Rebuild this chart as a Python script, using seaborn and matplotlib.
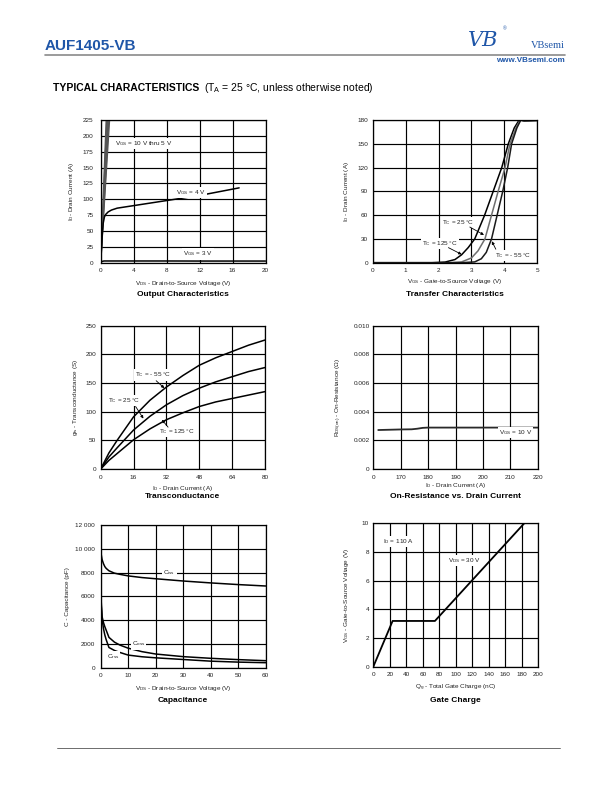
import matplotlib
matplotlib.use("Agg")
import matplotlib.pyplot as plt
import seaborn as sns
import pandas as pd
from matplotlib.lines import Line2D

# ---------------- data ----------------
# Output characteristics
out_vgs_hi_names = ["10 V", "9 V", "8 V", "7 V", "6 V", "5 V"]
out_vds_at_225 = [0.66, 0.74, 0.82, 0.90, 0.99, 1.08]
out_vds_4 = [0, 0.1, 0.2, 0.3, 0.45, 0.6, 0.9, 1.3, 2.0, 4.0, 8.0, 12.0, 16.8]
out_id_4 = [0, 22, 45, 62, 72, 76, 80, 83, 86, 90, 98, 106, 118]
out_vds_3 = [0, 0.15, 0.4, 4, 8, 12, 16, 20]
out_id_3 = [0, 2.0, 2.7, 2.7, 2.7, 2.6, 2.6, 2.6]

# Transfer characteristics
tr_v_125 = [0, 1.8, 2.2, 2.5, 2.7, 2.9, 3.1, 3.4, 3.66, 3.92, 4.12, 4.3, 4.45, 4.6, 5.0]
tr_i_125 = [0, 0, 0.8, 4, 10, 19, 30, 60, 90, 120, 150, 170, 180, 179, 179.5]
tr_v_25 = [0, 2.3, 2.7, 3.0, 3.2, 3.41, 3.61, 3.81, 4.02, 4.17, 4.35, 4.48, 4.6, 5.0]
tr_i_25 = [0, 0, 1, 6, 15, 30, 60, 90, 120, 150, 170, 180, 179, 179.5]
tr_v_m55 = [0, 2.7, 3.1, 3.3, 3.45, 3.61, 3.78, 3.95, 4.1, 4.22, 4.38, 4.5, 4.6, 5.0]
tr_i_m55 = [0, 0, 1, 5, 13, 30, 60, 90, 120, 150, 170, 180, 179, 179.5]

# Transconductance
gfs_id = [0, 4, 8, 16, 24, 32, 40, 48, 56, 64, 72, 80]
gfs_m55 = [0, 28, 50, 91, 120, 143, 163, 181, 194, 205, 216, 225]
gfs_25 = [0, 21, 37, 68, 92, 112, 128, 141, 152, 161, 170, 177]
gfs_125 = [0, 15, 27, 51, 70, 86, 98, 109, 117, 123, 129, 135]

# On-resistance vs drain current (x in tick-division units)
ron_tick_labels = ["0", "170", "180", "190", "200", "210", "220"]
ron_x = [0.18, 0.6, 1.0, 1.4, 1.6, 1.8, 2.0, 3.0, 4.0, 5.0, 6.0]
ron_r = [0.00272, 0.00274, 0.00276, 0.00277, 0.00281, 0.00287, 0.00289, 0.00289, 0.00289, 0.00289, 0.00289]

# Capacitance
cap_v = [0, 0.2, 0.5, 1, 1.5, 2, 3, 5, 7, 10, 15, 20, 30, 40, 50, 60]
cap_ciss = [10100, 9500, 9100, 8750, 8500, 8350, 8150, 7950, 7850, 7720, 7580, 7480, 7290, 7130, 6990, 6870]
cap_coss = [7100, 5500, 4300, 3800, 3450, 3150, 2550, 2150, 1900, 1640, 1350, 1150, 930, 790, 680, 590]
cap_crss = [7100, 5200, 4100, 3300, 2750, 2350, 1700, 1450, 1280, 1060, 920, 830, 690, 550, 470, 420]
cap_ytick_labels = ["0", "2000", "4000", "6000", "8000", "10 000", "12 000"]

# Gate charge
gc_qg = [0, 23.4, 74.7, 183]
gc_vgs = [0, 3.19, 3.19, 10]

# ---------------- style ----------------
sns.set_theme(style="white")
plt.rcParams["font.family"] = ["Liberation Sans", "DejaVu Sans"]
plt.rcParams["mathtext.fontset"] = "custom"
plt.rcParams["mathtext.rm"] = "Liberation Sans"
plt.rcParams["mathtext.it"] = "Liberation Sans:italic"
plt.rcParams["mathtext.bf"] = "Liberation Sans:bold"

W, H = 612, 792
fig = plt.figure(figsize=(6.12, 7.92), dpi=100)
BLUE = "#1f56a8"
TXT = "#222222"
FS = 4.6


def fx(px):
    return px / W


def fy(py):
    return 1 - py / H


def ax_at(l, t, r, b):
    return fig.add_axes([l / W, 1 - b / H, (r - l) / W, (b - t) / H])


def style(ax, xlim, ylim, xt, yt, xtl=None, ytl=None, ypad=3.5, ylab_x=-0.14, ylabel=""):
    ax.set_xlim(xlim)
    ax.set_ylim(ylim)
    ax.set_xticks(xt)
    ax.set_yticks(yt)
    ax.set_xticklabels(xtl if xtl is not None else [str(v) for v in xt])
    ax.set_yticklabels(ytl if ytl is not None else [str(v) for v in yt])
    ax.grid(True, color="black", lw=0.85)
    ax.set_axisbelow(True)
    for s in ax.spines.values():
        s.set_visible(True)
        s.set_color("black")
        s.set_linewidth(0.9)
    ax.tick_params(length=0, labelsize=FS, colors=TXT)
    ax.tick_params(axis="y", pad=ypad)
    ax.tick_params(axis="x", pad=4.0)
    ax.set_xlabel("")
    ax.set_ylabel(ylabel, fontsize=FS, color=TXT)
    ax.yaxis.set_label_coords(ylab_x, 0.5)


def under(ax_box, xlabel, xl_y, title, t_y):
    cx = (ax_box[0] + ax_box[2]) / 2
    fig.text(fx(cx), fy(xl_y), xlabel, fontsize=FS, color=TXT, ha="center", va="center")
    fig.text(fx(cx), fy(t_y), title, fontsize=6, fontweight="bold", color="black", ha="center", va="center")


def line(ax, x, y, color="black", lw=1.1):
    sns.lineplot(x=x, y=y, ax=ax, color=color, lw=lw, estimator=None, sort=False, legend=False)


def label(ax, x, y, s, ha="center"):
    ax.text(x, y, s, fontsize=FS, color=TXT, ha=ha, va="center", zorder=5,
            bbox=dict(facecolor="white", edgecolor="none", pad=0.8))


def arrow(ax, xy_from, xy_to):
    ax.annotate("", xy=xy_to, xytext=xy_from,
                arrowprops=dict(arrowstyle="-|>", color="black", lw=0.6, mutation_scale=4,
                                shrinkA=0, shrinkB=0), zorder=6)


# ---------------- header ----------------
fig.text(fx(45), fy(45.5), "AUF1405-VB", fontsize=11, fontweight="bold", color=BLUE, ha="left", va="center")
fig.add_artist(Line2D([fx(45), fx(565)], [fy(55), fy(55)], color="#8a8a8a", lw=1.2))
fig.text(fx(468), fy(41), "VB", fontsize=15, fontstyle="italic", family="DejaVu Serif", color=BLUE,
         ha="left", va="center")
fig.text(fx(503), fy(29), "®", fontsize=3.5, color=BLUE, ha="left", va="center")
fig.text(fx(565), fy(45), "VBsemi", fontsize=7.5, family="Liberation Serif", color=BLUE, ha="right", va="center")
fig.text(fx(565), fy(60.5), "www.VBsemi.com", fontsize=5.8, fontweight="bold", color=BLUE, ha="right", va="center")
fig.text(fx(53), fy(88), "TYPICAL CHARACTERISTICS", fontsize=7.5, fontweight="bold", color="black",
         ha="left", va="center")
fig.text(fx(204), fy(88), r"(T$_{\mathrm{A}}$ = 25 °C, unless otherwise noted)", fontsize=7.5, color="black",
         ha="left", va="center")
fig.add_artist(Line2D([fx(57), fx(560)], [fy(748), fy(748)], color="#555555", lw=0.6))

# ---------------- 1: output characteristics ----------------
b1 = (100.7, 120, 265.5, 262.7)
ax1 = ax_at(*b1)
for vt in out_vds_at_225:
    line(ax1, [0, vt * 240 / 225], [0, 240], color="#555555", lw=0.9)
line(ax1, out_vds_4, out_id_4)
line(ax1, out_vds_3, out_id_3)
style(ax1, (0, 20), (0, 225), [0, 4, 8, 12, 16, 20], list(range(0, 226, 25)), ypad=5.2, ylab_x=-0.15,
      ylabel=r"I$_{\mathrm{D}}$- Drain Current (A)")
label(ax1, 1.75, 188, r"V$_{\mathrm{GS}}$ = 10 V thru 5 V", ha="left")
label(ax1, 11.0, 111, r"V$_{\mathrm{GS}}$ = 4 V")
label(ax1, 11.8, 13.7, r"V$_{\mathrm{GS}}$ = 3 V")
under(b1, r"V$_{\mathrm{DS}}$ - Drain-to-Source Voltage (V)", 283.3, "Output Characteristics", 295)

# ---------------- 2: transfer characteristics ----------------
b2 = (372.7, 120, 537.3, 262.7)
ax2 = ax_at(*b2)
line(ax2, tr_v_125, tr_i_125, color="black")
line(ax2, tr_v_25, tr_i_25, color="#6e6e6e")
line(ax2, tr_v_m55, tr_i_m55, color="#1a1a1a")
style(ax2, (0, 5), (0, 180), [0, 1, 2, 3, 4, 5], list(range(0, 181, 30)), ypad=3.2, ylab_x=-0.134,
      ylabel=r"I$_{\mathrm{D}}$ - Drain Current (A)")
label(ax2, 2.6, 51, r"T$_{\mathrm{C}}$ = 25 °C")
arrow(ax2, (2.95, 45), (3.38, 35))
label(ax2, 2.05, 24.5, r"T$_{\mathrm{C}}$ = 125 °C")
arrow(ax2, (2.3, 19), (2.70, 10.5))
label(ax2, 4.27, 8.8, r"T$_{\mathrm{C}}$ = - 55 °C")
arrow(ax2, (3.74, 17), (3.62, 27))
under(b2, r"V$_{\mathrm{GS}}$ - Gate-to-Source Voltage (V)", 282, "Transfer Characteristics", 295)

# ---------------- 3: transconductance ----------------
b3 = (100.7, 325.7, 265, 469)
ax3 = ax_at(*b3)
line(ax3, gfs_id, gfs_m55)
line(ax3, gfs_id, gfs_25)
line(ax3, gfs_id, gfs_125)
style(ax3, (0, 80), (0, 250), [0, 16, 32, 48, 64, 80], list(range(0, 251, 50)), ypad=3.4, ylab_x=-0.126,
      ylabel=r"g$_{\mathrm{fs}}$ - Transconductance (S)")
label(ax3, 25.5, 164, r"T$_{\mathrm{C}}$ = - 55 °C")
arrow(ax3, (27, 154), (31, 141))
label(ax3, 11.5, 120, r"T$_{\mathrm{C}}$ = 25 °C")
arrow(ax3, (17.0, 109), (20.8, 88))
label(ax3, 37, 65, r"T$_{\mathrm{C}}$ = 125 °C")
arrow(ax3, (32.8, 73), (29.8, 86))
under(b3, r"I$_{\mathrm{D}}$ - Drain Current (A)", 488.3, "Transconductance", 497)

# ---------------- 4: on-resistance ----------------
b4 = (373.3, 325.7, 537.7, 469)
ax4 = ax_at(*b4)
line(ax4, ron_x, ron_r, color="#2a2a2a", lw=1.3)
style(ax4, (0, 6), (0, 0.010), list(range(7)), [0, 0.002, 0.004, 0.006, 0.008, 0.010],
      xtl=ron_tick_labels, ytl=["0", "0.002", "0.004", "0.006", "0.008", "0.010"], ypad=2.5, ylab_x=-0.178,
      ylabel=r"R$_{\mathrm{DS(on)}}$ - On-Resistance (Ω)")
label(ax4, 5.2, 0.00256, r"V$_{\mathrm{GS}}$ = 10 V")
under(b4, r"I$_{\mathrm{D}}$ - Drain Current (A)", 485.5, "On-Resistance vs. Drain Current", 497)

# ---------------- 5: capacitance ----------------
b5 = (100.7, 525, 265.7, 667.7)
ax5 = ax_at(*b5)
line(ax5, cap_v, cap_ciss)
line(ax5, cap_v, cap_coss)
line(ax5, cap_v, cap_crss)
style(ax5, (0, 60), (0, 12000), list(range(0, 61, 10)), list(range(0, 12001, 2000)),
      ytl=cap_ytick_labels, ypad=4.1, ylab_x=-0.186, ylabel="C - Capacitance (pF)")
label(ax5, 25, 8020, r"C$_{\mathrm{iss}}$")
label(ax5, 13.8, 1990, r"C$_{\mathrm{oss}}$")
label(ax5, 4.5, 900, r"C$_{\mathrm{rss}}$")
under(b5, r"V$_{\mathrm{DS}}$ - Drain-to-Source Voltage (V)", 688.3, "Capacitance", 700.5)

# ---------------- 6: gate charge ----------------
b6 = (373.3, 523.3, 538.3, 666.7)
ax6 = ax_at(*b6)
line(ax6, gc_qg, gc_vgs, lw=1.3)
style(ax6, (0, 200), (0, 10), list(range(0, 201, 20)), [0, 2, 4, 6, 8, 10], ypad=3.1, ylab_x=-0.137,
      ylabel=r"V$_{\mathrm{GS}}$ - Gate-to-Source Voltage (V)")
label(ax6, 11.4, 8.72, r"I$_{\mathrm{D}}$ = 110 A", ha="left")
label(ax6, 110, 7.39, r"V$_{\mathrm{DS}}$ = 30 V")
under(b6, r"Q$_{\mathrm{g}}$ - Total Gate Charge (nC)", 688, "Gate Charge", 700)

fig.savefig("out.png", dpi=100)
